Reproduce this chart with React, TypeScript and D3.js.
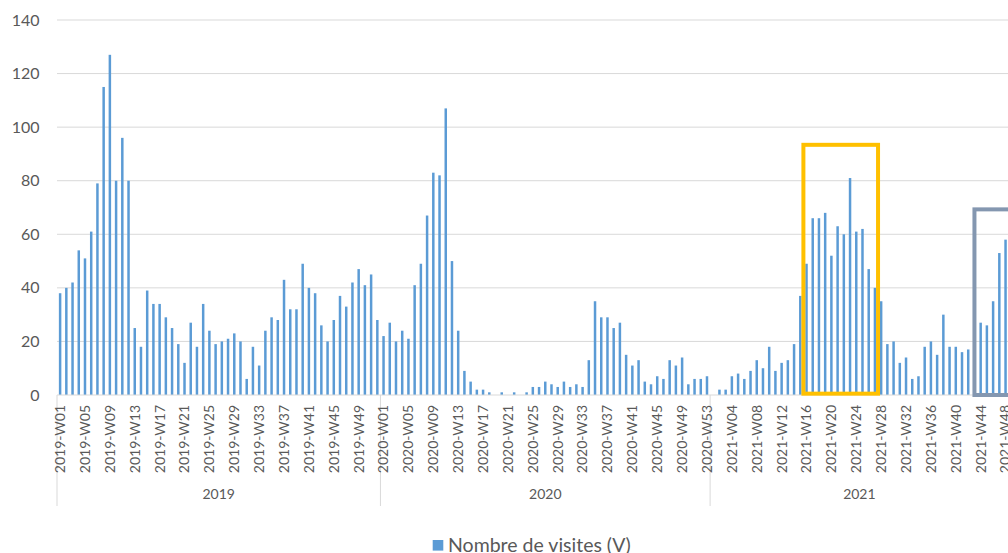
import React from "react";
import * as d3 from "d3";

const years = ["2019", "2020", "2021"];
const weeksPerYear = [52, 53, 48];
const visits2019 = [38,40,42,54,51,61,79,115,127,80,96,80,25,18,39,34,34,29,25,19,12,27,18,34,24,19,20,21,23,20,6,18,11,24,29,28,43,32,32,49,40,38,26,20,28,37,33,42,47,41,45,28];
const visits2020 = [22,27,20,24,21,41,49,67,83,82,107,50,24,9,5,2,2,1,0,1,0,1,0,1,3,3,5,4,3,5,3,4,3,13,35,29,29,25,27,15,11,13,5,4,7,6,13,11,14,4,6,6,7];
const visits2021 = [0,2,2,7,8,6,9,13,10,18,9,12,13,19,37,49,66,66,68,52,63,60,81,61,62,47,40,35,19,20,12,14,6,7,18,20,15,30,18,18,16,17,9,27,26,35,53,58];
const yTicks = [0, 20, 40, 60, 80, 100, 120, 140];
const seriesName = "Nombre de visites (V)";

// highlight boxes (data coordinates)
const orangeBox = { from: "2021-W16", to: "2021-W28", top: 93.4, bottom: 0.5 };
const grayBox = { from: "2021-W43", top: 69.3, bottom: 0 };

const W = 1008, H = 553;
const FONT = "Lato, 'Liberation Sans', sans-serif";
const TXT = "#595959";
const GRID = "#d9d9d9";

export default function App() {
  const allValues = [visits2019, visits2020, visits2021];
  const data: { cat: string; year: string; v: number; idx: number }[] = [];
  years.forEach((yr, yi) => {
    for (let w = 1; w <= weeksPerYear[yi]; w++) {
      const cat = `${yr}-W${String(w).padStart(2, "0")}`;
      data.push({ cat, year: yr, v: allValues[yi][w - 1], idx: data.length });
    }
  });
  const left = 57;
  const step = 6.22;
  const right = left + data.length * step;
  const x = d3.scaleBand<string>()
    .domain(data.map(d => d.cat))
    .range([left, right])
    .paddingInner(0.6)
    .paddingOuter(0.3);
  const st = x.step();
  const bandStart = (c: string) => (x(c) as number) - st * 0.3;
  const center = (c: string) => (x(c) as number) + x.bandwidth() / 2;
  const y = d3.scaleLinear().domain([0, 140]).range([395, 20]);

  const groups: { year: string; x0: number; x1: number }[] = [];
  let cursor = 0;
  years.forEach((yr, yi) => {
    const first = data[cursor].cat;
    const last = data[cursor + weeksPerYear[yi] - 1].cat;
    groups.push({ year: yr, x0: bandStart(first), x1: bandStart(last) + st });
    cursor += weeksPerYear[yi];
  });

  const ox0 = bandStart(orangeBox.from);
  const ox1 = bandStart(orangeBox.to);
  const gx0 = center(grayBox.from);

  return (
    <svg width={W} height={H} style={{ position: "absolute", left: 0, top: 0, background: "#fff" }}>
      {yTicks.map(t => (
        <g key={t}>
          {t > 0 && <line x1={left} x2={W} y1={y(t)} y2={y(t)} stroke={GRID} strokeWidth={1} />}
          <text x={39.5} y={y(t)} dy="0.35em" textAnchor="end" fontFamily={FONT} fontSize={16} fill={TXT}>{t}</text>
        </g>
      ))}
      {data.map(d => (
        <rect key={d.cat} x={x(d.cat)} width={x.bandwidth()} y={y(d.v)} height={y(0) - y(d.v)} fill="#5b9bd5" />
      ))}
      <line x1={left} x2={W} y1={y(0)} y2={y(0)} stroke={GRID} strokeWidth={1} />
      {groups.map(g => (
        <g key={g.year}>
          <line x1={g.x0} x2={g.x0} y1={y(0)} y2={506} stroke={GRID} strokeWidth={1} />
          <text x={(g.x0 + g.x1) / 2} y={499} textAnchor="middle" fontFamily={FONT} fontSize={14} fill={TXT}>{g.year}</text>
        </g>
      ))}
      {data.filter(d => d.idx % 4 === 0).map(d => (
        <text key={d.cat} transform={`translate(${center(d.cat)},405) rotate(-90)`} dy="0.35em" textAnchor="end" fontFamily={FONT} fontSize={14} fill={TXT}>{d.cat}</text>
      ))}
      <rect x={ox0} y={y(orangeBox.top)} width={ox1 - ox0} height={y(orangeBox.bottom) - y(orangeBox.top)} fill="none" stroke="#ffc000" strokeWidth={4} />
      <rect x={gx0} y={y(grayBox.top)} width={W + 40 - gx0} height={y(grayBox.bottom) - y(grayBox.top)} fill="none" stroke="#8497b0" strokeWidth={4} />
      <rect x={432.7} y={540} width={10.6} height={10.6} fill="#5b9bd5" />
      <text x={448} y={552} fontFamily={FONT} fontSize={19.5} fill={TXT}>{seriesName}</text>
    </svg>
  );
}
